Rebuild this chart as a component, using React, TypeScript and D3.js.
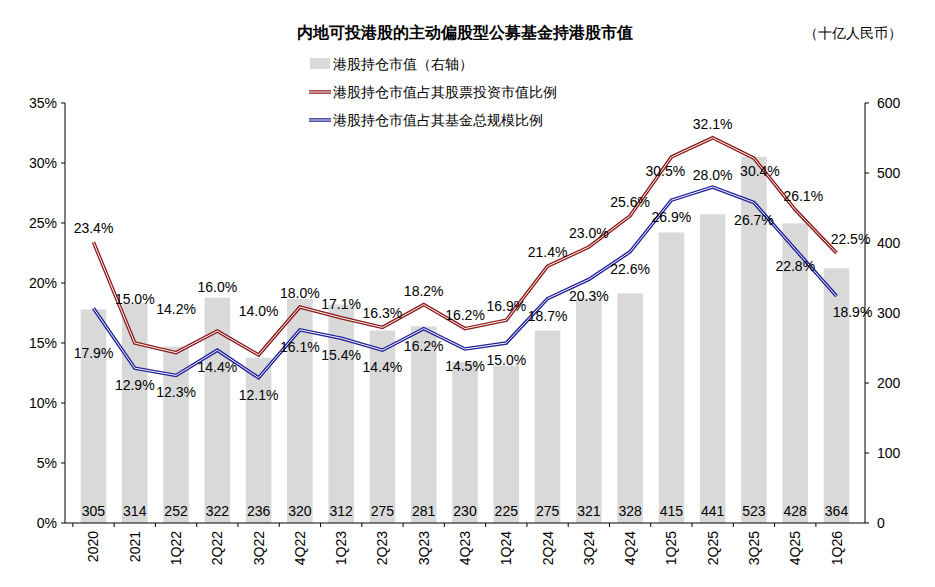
import React from 'react';
import * as d3 from 'd3';

const categories = ['2020', '2021', '1Q22', '2Q22', '3Q22', '4Q22', '1Q23', '2Q23', '3Q23', '4Q23', '1Q24', '2Q24', '3Q24', '4Q24', '1Q25', '2Q25', '3Q25', '4Q25', '1Q26'];
const holdings = [305, 314, 252, 322, 236, 320, 312, 275, 281, 230, 225, 275, 321, 328, 415, 441, 523, 428, 364];
const shareOfStock = [23.4, 15.0, 14.2, 16.0, 14.0, 18.0, 17.1, 16.3, 18.2, 16.2, 16.9, 21.4, 23.0, 25.6, 30.5, 32.1, 30.4, 26.1, 22.5];
const shareOfFund = [17.9, 12.9, 12.3, 14.4, 12.1, 16.1, 15.4, 14.4, 16.2, 14.5, 15.0, 18.7, 20.3, 22.6, 26.9, 28.0, 26.7, 22.8, 18.9];
const leftTicks = [0, 5, 10, 15, 20, 25, 30, 35];
const rightTicks = [0, 100, 200, 300, 400, 500, 600];

// label offsets (dx, dy) to mimic placement in the original
const redOff: [number, number][] = shareOfStock.map((_, i) =>
  i >= 1 && i <= 4 ? [0, -44] : i === 14 ? [-6, 14] : i === 16 ? [6, 13] : i === 17 ? [8, -14] : i === 18 ? [14, -14] : i === 0 ? [0, -14] : [0, -14]);
const blueOff: [number, number][] = shareOfFund.map((_, i) =>
  i === 0 ? [0, 45] : i === 15 ? [0, -12] : i === 18 ? [16, 16] : [0, 17]);

const W = 935, H = 587;
const L = 65, R = 865, T = 103, B = 523;
const font = '"Liberation Sans", Arial, sans-serif';

export default function App() {
  const x = d3.scaleBand<string>().domain(categories).range([L, R]).padding(0.38);
  const cx = (c: string) => x(c)! + x.bandwidth() / 2;
  const yl = d3.scaleLinear().domain([0, 35]).range([B, T]);
  const yr = d3.scaleLinear().domain([0, 600]).range([B, T]);
  const line = d3.line<number>().x((_, i) => cx(categories[i])).y((d) => yl(d));

  const series = [
    { data: shareOfStock, color: '#8b1a1a', off: redOff },
    { data: shareOfFund, color: '#1f1f99', off: blueOff },
  ];

  return (
    <svg width={W} height={H} style={{ position: 'absolute', left: 0, top: 0, background: 'white', fontFamily: font }}>
      <text x={465} y={38} textAnchor="middle" fontSize={16} fontWeight="bold" fill="#000">内地可投港股的主动偏股型公募基金持港股市值</text>
      <text x={853} y={38} textAnchor="middle" fontSize={14} fill="#000">（十亿人民币）</text>

      <rect x={310} y={58} width={20} height={11} fill="#d9d9d9" />
      <text x={333} y={69} fontSize={14}>港股持仓市值（右轴）</text>
      {series.map((s, k) => (
        <g key={k}>
          <line x1={309} x2={331} y1={92 + k * 28} y2={92 + k * 28} stroke={s.color} strokeWidth={3.5} />
          <line x1={309} x2={331} y1={92 + k * 28} y2={92 + k * 28} stroke="#fff" strokeWidth={1} />
          <text x={333} y={97 + k * 28} fontSize={14}>{k === 0 ? '港股持仓市值占其股票投资市值比例' : '港股持仓市值占其基金总规模比例'}</text>
        </g>
      ))}

      {holdings.map((v, i) => (
        <rect key={i} x={x(categories[i])} y={yr(v)} width={x.bandwidth()} height={B - yr(v)} fill="#d9d9d9" />
      ))}
      {holdings.map((v, i) => (
        <text key={i} x={cx(categories[i])} y={516} textAnchor="middle" fontSize={14} fill="#000">{v}</text>
      ))}

      <line x1={L} x2={R} y1={B} y2={B} stroke="#000" />
      <line x1={L} x2={L} y1={T} y2={B} stroke="#000" />
      <line x1={R} x2={R} y1={T} y2={B} stroke="#000" />
      {leftTicks.map((t) => (
        <g key={t}>
          <line x1={L - 4} x2={L} y1={yl(t)} y2={yl(t)} stroke="#000" />
          <text x={L - 8} y={yl(t) + 5} textAnchor="end" fontSize={14}>{t}%</text>
        </g>
      ))}
      {rightTicks.map((t) => (
        <g key={t}>
          <line x1={R} x2={R + 4} y1={yr(t)} y2={yr(t)} stroke="#000" />
          <text x={R + 12} y={yr(t) + 5} textAnchor="start" fontSize={14}>{t}</text>
        </g>
      ))}
      {categories.map((c, i) => (
        <g key={c}>
          <line x1={x(c)! - x.step() * x.paddingInner() / 2} x2={x(c)! - x.step() * x.paddingInner() / 2} y1={B} y2={B + 4} stroke="#000" />
          <text transform={`translate(${cx(c) + 5},${B + 8}) rotate(-90)`} textAnchor="end" fontSize={14}>{c}</text>
        </g>
      ))}

      {series.map((s, k) => (
        <g key={k}>
          <path d={line(s.data)!} fill="none" stroke={s.color} strokeWidth={3.5} />
          <path d={line(s.data)!} fill="none" stroke="#fff" strokeWidth={1} />
        </g>
      ))}
      {series.map((s, k) => s.data.map((v, i) => (
        <text key={`${k}-${i}`} x={cx(categories[i]) + s.off[i][0]} y={yl(v) + s.off[i][1] + 5} textAnchor="middle" fontSize={14} fill="#000">{v.toFixed(1)}%</text>
      )))}
    </svg>
  );
}
